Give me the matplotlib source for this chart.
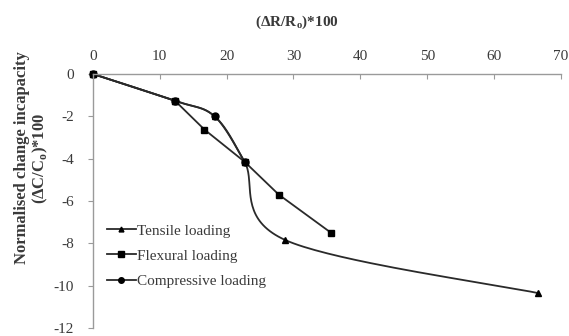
import numpy as np
import matplotlib
matplotlib.use("Agg")
import matplotlib.pyplot as plt
from matplotlib.lines import Line2D

# Data
tensile_x = [0, 12.3, 18.2, 22.7, 28.8, 66.5]
tensile_y = [0, -1.27, -2.0, -4.15, -7.85, -10.35]
flexural_x = [0, 12.3, 16.7, 22.7, 27.8, 35.6]
flexural_y = [0, -1.27, -2.63, -4.15, -5.7, -7.5]
compressive_x = [0, 12.3, 18.2, 22.7]
compressive_y = [0, -1.27, -2.0, -4.15]
x_ticks = [0, 10, 20, 30, 40, 50, 60, 70]
y_ticks = [0, -2, -4, -6, -8, -10, -12]


def smooth(xs, ys, n=40):
    """Excel-like smoothed line (Catmull-Rom through the points)."""
    p = np.column_stack([xs, ys]).astype(float)
    pts = np.vstack([p[0], p, p[-1]])
    out = []
    for i in range(1, len(pts) - 2):
        p0, p1, p2, p3 = pts[i - 1], pts[i], pts[i + 1], pts[i + 2]
        t = np.linspace(0, 1, n)[:, None]
        seg = 0.5 * ((2 * p1) + (-p0 + p2) * t + (2 * p0 - 5 * p1 + 4 * p2 - p3) * t ** 2
                     + (-p0 + 3 * p1 - 3 * p2 + p3) * t ** 3)
        out.append(seg)
    c = np.vstack(out)
    return c[:, 0], c[:, 1]


serif = ["Liberation Serif", "DejaVu Serif"]
plt.rcParams["font.family"] = serif
plt.rcParams["axes.unicode_minus"] = False

fig = plt.figure(figsize=(5.69, 3.36), dpi=100)
ax = fig.add_axes([0.163, 0.024, 0.823, 0.756])

lc = "#2a2a2a"
lw = 1.3
tc = "#3a3a3a"

tx, ty = smooth(tensile_x, tensile_y)
ax.plot(tx, ty, color=lc, lw=lw, clip_on=False)
ax.plot(tensile_x, tensile_y, ls="none", marker="^", ms=4.5, color="black", clip_on=False)
ax.plot(flexural_x, flexural_y, color=lc, lw=lw, marker="s", ms=5, mfc="black",
        mec="black", clip_on=False)
cx, cy = smooth(compressive_x, compressive_y)
ax.plot(cx, cy, color=lc, lw=lw, clip_on=False)
ax.plot(compressive_x, compressive_y, ls="none", marker="o", ms=5, color="black",
        clip_on=False)

ax.set_xlim(0, 70)
ax.set_ylim(-12, 0)
ax.set_xticks(x_ticks)
ax.set_yticks(y_ticks)
ax.xaxis.tick_top()
ax.spines["right"].set_visible(False)
ax.spines["bottom"].set_visible(False)
for s in ("left", "top"):
    ax.spines[s].set_color("#9a9a9a")
    ax.spines[s].set_linewidth(1.0)
ax.tick_params(axis="x", direction="in", length=3.5, color="#9a9a9a", labelsize=11,
               labelcolor=tc, pad=8)
ax.tick_params(axis="y", direction="out", length=3.5, color="#9a9a9a", labelsize=11,
               labelcolor=tc, pad=10)

fig.text(297 / 569, 1 - 22 / 336, "(ΔR/R$_\\mathregular{o}$)*100", ha="center", va="center",
         fontsize=11, fontweight="bold", color=tc)
fig.text(32 / 569, 1 - 158 / 336, "Normalised change incapacity\n(ΔC/C$_\\mathregular{o}$)*100",
         ha="center", va="center", rotation=90, fontsize=12, fontweight="bold",
         color=tc, linespacing=1.0)

handles = [
    Line2D([], [], color=lc, lw=lw, marker="^", ms=3.5, mfc="black", mec="black"),
    Line2D([], [], color=lc, lw=lw, marker="s", ms=4, mfc="black", mec="black"),
    Line2D([], [], color=lc, lw=lw, marker="o", ms=4, mfc="black", mec="black"),
]
ax.legend(handles, ["Tensile loading", "Flexural loading", "Compressive loading"],
          loc="upper left", bbox_to_anchor=(14 / 468, 1 - 150 / 254), frameon=False,
          fontsize=11, handlelength=1.9, handletextpad=0.05, labelspacing=0.75,
          borderaxespad=0, borderpad=0, labelcolor=tc)

fig.savefig("out.png", dpi=100)
